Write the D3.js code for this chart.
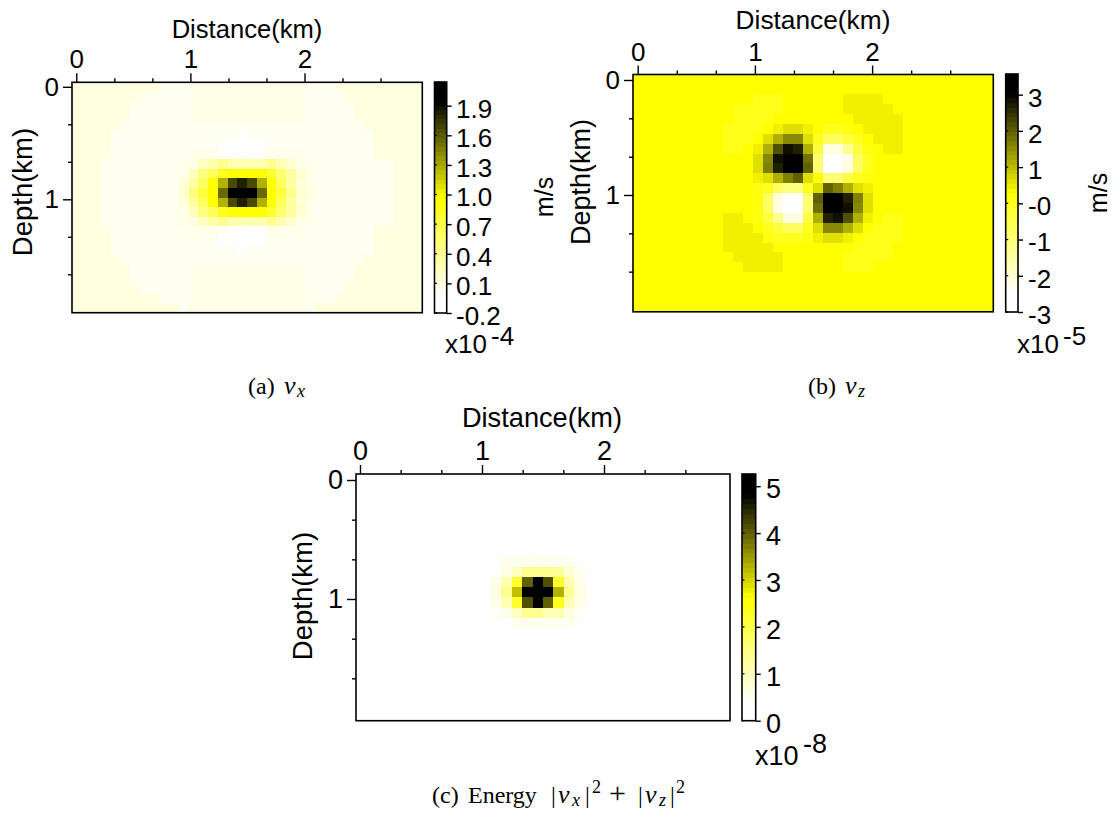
<!DOCTYPE html>
<html><head><meta charset="utf-8">
<script src="https://cdn.jsdelivr.net/npm/d3@7/dist/d3.min.js"></script>
<style>html,body{margin:0;padding:0;background:#fff}svg{display:block}</style>
</head><body><svg id="chart" width="1113" height="814"></svg>
<script>
// Values, rows top to bottom, 36 columns by 24 rows
const vxValues = [ // x 10^-4 m/s
[.11,.11,.11,.11,.11,.11,.11,.11,.11,.04,.04,.04,.08,.08,.08,.08,.08,.08,.08,.08,.08,.08,.08,.08,.04,.04,.04,.11,.11,.11,.11,.11,.11,.11,.11,.11],
[.11,.11,.11,.11,.11,.11,.11,.04,.04,.04,.04,.04,.08,.08,.08,.08,.08,.08,.08,.08,.08,.08,.08,.08,.04,.04,.04,.04,.11,.11,.11,.11,.11,.11,.11,.11],
[.11,.11,.11,.11,.11,.11,.04,.04,.04,.04,.04,.04,.08,.08,.08,.08,.08,.08,.08,.08,.08,.08,.08,.08,.04,.04,.04,.04,.04,.11,.11,.11,.11,.11,.11,.11],
[.11,.11,.11,.11,.11,.11,.04,.04,.04,.04,.04,.04,.08,.08,.08,.08,.08,.08,.08,.08,.08,.08,.08,.08,.04,.04,.04,.04,.04,.11,.11,.11,.11,.11,.11,.11],
[.11,.11,.11,.11,.11,.04,.04,.04,.04,.04,.04,.04,.04,.04,.04,.04,.04,.04,.04,.04,.04,.04,.04,.04,.04,.04,.04,.04,.04,.04,.11,.11,.11,.11,.11,.11],
[.11,.11,.11,.11,.04,.04,.04,.04,.04,.04,.04,.04,.04,.04,.04,.04,.04,-.05,.04,.04,.04,.04,.04,.04,.04,.04,.04,.04,.04,.04,.04,.11,.11,.11,.11,.11],
[.11,.11,.11,.11,.04,.04,.04,.04,.04,.04,.04,.04,.04,.04,.04,-.05,-.05,-.05,-.05,-.05,.04,.04,.04,.04,.04,.04,.04,.04,.04,.04,.04,.11,.11,.11,.11,.11],
[.11,.11,.11,.11,.04,.04,.04,.04,.04,.04,.04,.04,.07,.07,.07,0,0,-.05,0,0,.07,.07,.07,.07,.04,.04,.04,.04,.04,.04,.04,.11,.11,.11,.11,.11],
[.11,.11,.11,.04,.04,.04,.04,.04,.04,.04,.04,.07,.1,.23,.32,.42,.29,.29,.29,.29,.42,.29,.17,.08,.06,.04,.04,.04,.04,.04,.04,.04,.04,.11,.11,.11],
[.11,.11,.11,.04,.04,.04,.04,.04,.04,.04,.04,.07,.23,.48,.6,.85,.97,.97,.97,.97,.79,.54,.35,.17,.08,.04,.04,.04,.04,.04,.04,.04,.04,.11,.11,.11],
[.11,.11,.11,.04,.04,.04,.04,.04,.04,.04,.04,.14,.35,.6,.97,1.27,1.67,1.83,1.67,1.27,.97,.6,.35,.14,.08,.04,.04,.04,.04,.04,.04,.04,.04,.11,.11,.11],
[.11,.11,.11,.04,.04,.04,.04,.04,.04,.04,.04,.17,.48,.73,.97,1.55,2.1,2.1,2.1,1.55,.97,.73,.42,.17,.11,.04,.04,.04,.04,.04,.04,.04,.04,.11,.11,.11],
[.11,.11,.11,.04,.04,.04,.04,.04,.04,.04,.04,.14,.35,.6,.97,1.27,1.67,1.83,1.67,1.27,.97,.6,.35,.14,.08,.04,.04,.04,.04,.04,.04,.04,.04,.11,.11,.11],
[.11,.11,.11,.04,.04,.04,.04,.04,.04,.04,.04,.07,.23,.48,.6,.85,.97,.97,.97,.97,.79,.54,.35,.17,.08,.04,.04,.04,.04,.04,.04,.04,.04,.11,.11,.11],
[.11,.11,.11,.04,.04,.04,.04,.04,.04,.04,.04,.07,.1,.23,.32,.42,.29,.29,.29,.29,.42,.29,.17,.08,.06,.04,.04,.04,.04,.04,.04,.04,.04,.11,.11,.11],
[.11,.11,.11,.11,.04,.04,.04,.04,.04,.04,.04,.04,.07,.07,.07,0,0,-.05,0,0,.07,.07,.07,.07,.04,.04,.04,.04,.04,.04,.04,.11,.11,.11,.11,.11],
[.11,.11,.11,.11,.04,.04,.04,.04,.04,.04,.04,.04,.04,.04,.04,-.05,-.05,-.05,-.05,-.05,.04,.04,.04,.04,.04,.04,.04,.04,.04,.04,.04,.11,.11,.11,.11,.11],
[.11,.11,.11,.11,.04,.04,.04,.04,.04,.04,.04,.04,.04,.04,.04,.04,.04,-.05,.04,.04,.04,.04,.04,.04,.04,.04,.04,.04,.04,.04,.04,.11,.11,.11,.11,.11],
[.11,.11,.11,.11,.11,.04,.04,.04,.04,.04,.04,.04,.04,.04,.04,.04,.04,.04,.04,.04,.04,.04,.04,.04,.04,.04,.04,.04,.04,.04,.11,.11,.11,.11,.11,.11],
[.11,.11,.11,.11,.11,.11,.04,.04,.04,.04,.04,.04,.08,.08,.08,.08,.08,.08,.08,.08,.08,.08,.08,.08,.04,.04,.04,.04,.04,.11,.11,.11,.11,.11,.11,.11],
[.11,.11,.11,.11,.11,.11,.04,.04,.04,.04,.04,.04,.08,.08,.08,.08,.08,.08,.08,.08,.08,.08,.08,.08,.04,.04,.04,.04,.04,.11,.11,.11,.11,.11,.11,.11],
[.11,.11,.11,.11,.11,.11,.11,.04,.04,.04,.04,.04,.08,.08,.08,.08,.08,.08,.08,.08,.08,.08,.08,.08,.04,.04,.04,.04,.11,.11,.11,.11,.11,.11,.11,.11],
[.11,.11,.11,.11,.11,.11,.11,.11,.11,.04,.04,.04,.08,.08,.08,.08,.08,.08,.08,.08,.08,.08,.08,.08,.04,.04,.04,.11,.11,.11,.11,.11,.11,.11,.11,.11],
[.11,.11,.11,.11,.11,.11,.11,.11,.11,.11,.11,.04,.08,.08,.08,.08,.08,.08,.08,.08,.08,.08,.08,.08,.04,.11,.11,.11,.11,.11,.11,.11,.11,.11,.11,.11]
];
const vzValues = [ // x 10^-5 m/s
[.29,.29,.29,.29,.29,.29,.29,.29,.29,.29,.29,.29,.29,.29,.29,.29,.29,.29,.29,.29,.29,.29,.29,.29,.29,.29,.29,.29,.29,.29,.29,.29,.29,.29,.29,.29],
[.29,.29,.29,.29,.29,.29,.29,.29,.29,.29,.29,.29,.29,.29,.29,.29,.29,.29,.29,.29,.29,.29,.29,.29,.29,.29,.29,.29,.29,.29,.29,.29,.29,.29,.29,.29],
[.29,.29,.29,.29,.29,.29,.29,.29,.29,.29,.29,.29,.03,.03,.03,.29,.29,.29,.29,.29,.29,.45,.45,.45,.45,.29,.29,.29,.29,.29,.29,.29,.29,.29,.29,.29],
[.29,.29,.29,.29,.29,.29,.29,.29,.29,.29,.03,.03,.03,.03,.03,.29,.29,.29,.29,.29,.29,.45,.45,.45,.45,.45,.29,.29,.29,.29,.29,.29,.29,.29,.29,.29],
[.29,.29,.29,.29,.29,.29,.29,.29,.29,.29,.03,.03,.03,.03,.29,.29,.29,.29,.29,.29,.29,.29,.45,.45,.45,.45,.45,.29,.29,.29,.29,.29,.29,.29,.29,.29],
[.29,.29,.29,.29,.29,.29,.29,.29,.29,.03,.03,.03,.03,.29,.45,.62,.62,.45,.29,-.06,-.06,.11,.29,.45,.45,.45,.45,.29,.29,.29,.29,.29,.29,.29,.29,.29],
[.29,.29,.29,.29,.29,.29,.29,.29,.29,.03,.03,.03,.29,.62,1.14,1.57,1.57,.62,-.06,-.75,-.75,-.41,-.06,.29,.45,.45,.45,.29,.29,.29,.29,.29,.29,.29,.29,.29],
[.29,.29,.29,.29,.29,.29,.29,.29,.29,.03,.03,.29,.45,1.14,2.18,2.87,2.7,1.14,-.41,-2.14,-2.14,-1.27,-.41,.11,.29,.45,.45,.29,.29,.29,.29,.29,.29,.29,.29,.29],
[.29,.29,.29,.29,.29,.29,.29,.29,.29,.29,.29,.29,.62,1.57,2.87,3.3,3.3,1.83,-.93,-2.8,-2.8,-2.23,-.75,-.06,.29,.29,.29,.29,.29,.29,.29,.29,.29,.29,.29,.29],
[.29,.29,.29,.29,.29,.29,.29,.29,.29,.29,.29,.29,.62,1.66,2.7,3.3,3.3,2,-.93,-2.8,-2.8,-2.14,-.75,-.06,.29,.29,.29,.29,.29,.29,.29,.29,.29,.29,.29,.29],
[.29,.29,.29,.29,.29,.29,.29,.29,.29,.29,.29,.29,.45,.62,1.14,1.66,2,.62,.11,-.93,-.93,-.41,-.06,.11,.29,.29,.29,.29,.29,.29,.29,.29,.29,.29,.29,.29],
[.29,.29,.29,.29,.29,.29,.29,.29,.29,.29,.29,.29,.11,-.06,-.75,-1.1,-1.1,-.06,.62,2,1.66,1.14,.62,.45,.29,.29,.29,.29,.29,.29,.29,.29,.29,.29,.29,.29],
[.29,.29,.29,.29,.29,.29,.29,.29,.29,.29,.29,.29,.11,-.75,-2.14,-2.8,-2.8,-.93,2,3.3,3.3,2.7,1.66,.62,.29,.29,.29,.29,.29,.29,.29,.29,.29,.29,.29,.29],
[.29,.29,.29,.29,.29,.29,.29,.29,.29,.29,.29,.29,.11,-.75,-2.23,-2.8,-2.8,-.93,1.83,3.3,3.3,2.87,1.57,.62,.29,.29,.29,.29,.29,.29,.29,.29,.29,.29,.29,.29],
[.29,.29,.29,.29,.29,.29,.29,.29,.29,.45,.45,.29,.11,-.41,-1.27,-2.14,-2.14,-.41,1.14,2.7,2.87,2.18,1.14,.45,.29,.03,.03,.29,.29,.29,.29,.29,.29,.29,.29,.29],
[.29,.29,.29,.29,.29,.29,.29,.29,.29,.45,.45,.45,.29,-.06,-.41,-.75,-.75,-.06,.62,1.57,1.57,1.14,.62,.29,.03,.03,.03,.29,.29,.29,.29,.29,.29,.29,.29,.29],
[.29,.29,.29,.29,.29,.29,.29,.29,.29,.45,.45,.45,.45,.11,-.06,-.06,-.06,.11,.45,.62,.62,.45,.29,.03,.03,.03,.03,.29,.29,.29,.29,.29,.29,.29,.29,.29],
[.29,.29,.29,.29,.29,.29,.29,.29,.29,.45,.45,.45,.45,.45,.29,.29,.29,.29,.29,.29,.29,.29,.03,.03,.03,.03,.29,.29,.29,.29,.29,.29,.29,.29,.29,.29],
[.29,.29,.29,.29,.29,.29,.29,.29,.29,.29,.45,.45,.45,.45,.45,.29,.29,.29,.29,.29,.29,.03,.03,.03,.03,.03,.29,.29,.29,.29,.29,.29,.29,.29,.29,.29],
[.29,.29,.29,.29,.29,.29,.29,.29,.29,.29,.29,.45,.45,.45,.45,.29,.29,.29,.29,.29,.29,.03,.03,.03,.29,.29,.29,.29,.29,.29,.29,.29,.29,.29,.29,.29],
[.29,.29,.29,.29,.29,.29,.29,.29,.29,.29,.29,.29,.29,.29,.29,.29,.29,.29,.29,.29,.29,.29,.29,.29,.29,.29,.29,.29,.29,.29,.29,.29,.29,.29,.29,.29],
[.29,.29,.29,.29,.29,.29,.29,.29,.29,.29,.29,.29,.29,.29,.29,.29,.29,.29,.29,.29,.29,.29,.29,.29,.29,.29,.29,.29,.29,.29,.29,.29,.29,.29,.29,.29],
[.29,.29,.29,.29,.29,.29,.29,.29,.29,.29,.29,.29,.29,.29,.29,.29,.29,.29,.29,.29,.29,.29,.29,.29,.29,.29,.29,.29,.29,.29,.29,.29,.29,.29,.29,.29],
[.29,.29,.29,.29,.29,.29,.29,.29,.29,.29,.29,.29,.29,.29,.29,.29,.29,.29,.29,.29,.29,.29,.29,.29,.29,.29,.29,.29,.29,.29,.29,.29,.29,.29,.29,.29]
];
const energyValues = [ // x 10^-8
[0,0,0,0,0,0,0,0,0,0,0,0,0,0,0,0,0,0,0,0,0,0,0,0,0,0,0,0,0,0,0,0,0,0,0,0],
[0,0,0,0,0,0,0,0,0,0,0,0,0,0,0,0,0,0,0,0,0,0,0,0,0,0,0,0,0,0,0,0,0,0,0,0],
[0,0,0,0,0,0,0,0,0,0,0,0,0,0,0,0,0,0,0,0,0,0,0,0,0,0,0,0,0,0,0,0,0,0,0,0],
[0,0,0,0,0,0,0,0,0,0,0,0,0,0,0,0,0,0,0,0,0,0,0,0,0,0,0,0,0,0,0,0,0,0,0,0],
[0,0,0,0,0,0,0,0,0,0,0,0,0,0,0,0,0,0,0,0,0,0,0,0,0,0,0,0,0,0,0,0,0,0,0,0],
[0,0,0,0,0,0,0,0,0,0,0,0,0,0,0,0,0,0,0,0,0,0,0,0,0,0,0,0,0,0,0,0,0,0,0,0],
[0,0,0,0,0,0,0,0,0,0,0,0,0,0,0,0,0,0,0,0,0,0,0,0,0,0,0,0,0,0,0,0,0,0,0,0],
[0,0,0,0,0,0,0,0,0,0,0,0,0,0,0,0,0,0,0,0,0,0,0,0,0,0,0,0,0,0,0,0,0,0,0,0],
[0,0,0,0,0,0,0,0,0,0,0,0,0,0,.55,.55,.55,.62,.55,.55,.55,0,0,0,0,0,0,0,0,0,0,0,0,0,0,0],
[0,0,0,0,0,0,0,0,0,0,0,0,0,.48,.69,.97,1.38,1.38,1.38,1.3,.8,.55,0,0,0,0,0,0,0,0,0,0,0,0,0,0],
[0,0,0,0,0,0,0,0,0,0,0,0,0,.62,1.1,2.21,4.01,4.9,4.15,2.21,1.1,.62,0,0,0,0,0,0,0,0,0,0,0,0,0,0],
[0,0,0,0,0,0,0,0,0,0,0,0,0,.69,1.38,3.18,4.9,4.9,4.9,3.31,1.38,.69,0,0,0,0,0,0,0,0,0,0,0,0,0,0],
[0,0,0,0,0,0,0,0,0,0,0,0,0,.62,1.1,2.21,4.15,4.9,4.01,2.35,1.1,.62,0,0,0,0,0,0,0,0,0,0,0,0,0,0],
[0,0,0,0,0,0,0,0,0,0,0,0,0,.48,.62,.97,1.38,1.38,1.1,1.1,.69,.5,0,0,0,0,0,0,0,0,0,0,0,0,0,0],
[0,0,0,0,0,0,0,0,0,0,0,0,0,0,0,.55,.55,.55,.55,.55,.55,0,0,0,0,0,0,0,0,0,0,0,0,0,0,0],
[0,0,0,0,0,0,0,0,0,0,0,0,0,0,0,0,0,0,0,0,0,0,0,0,0,0,0,0,0,0,0,0,0,0,0,0],
[0,0,0,0,0,0,0,0,0,0,0,0,0,0,0,0,0,0,0,0,0,0,0,0,0,0,0,0,0,0,0,0,0,0,0,0],
[0,0,0,0,0,0,0,0,0,0,0,0,0,0,0,0,0,0,0,0,0,0,0,0,0,0,0,0,0,0,0,0,0,0,0,0],
[0,0,0,0,0,0,0,0,0,0,0,0,0,0,0,0,0,0,0,0,0,0,0,0,0,0,0,0,0,0,0,0,0,0,0,0],
[0,0,0,0,0,0,0,0,0,0,0,0,0,0,0,0,0,0,0,0,0,0,0,0,0,0,0,0,0,0,0,0,0,0,0,0],
[0,0,0,0,0,0,0,0,0,0,0,0,0,0,0,0,0,0,0,0,0,0,0,0,0,0,0,0,0,0,0,0,0,0,0,0],
[0,0,0,0,0,0,0,0,0,0,0,0,0,0,0,0,0,0,0,0,0,0,0,0,0,0,0,0,0,0,0,0,0,0,0,0],
[0,0,0,0,0,0,0,0,0,0,0,0,0,0,0,0,0,0,0,0,0,0,0,0,0,0,0,0,0,0,0,0,0,0,0,0],
[0,0,0,0,0,0,0,0,0,0,0,0,0,0,0,0,0,0,0,0,0,0,0,0,0,0,0,0,0,0,0,0,0,0,0,0]
];
const vxRange = [-0.2, 2.14];
const vzRange = [-3, 3.57];
const energyRange = [0, 5.26];
const vxTicks = [-0.2, 0.1, 0.4, 0.7, 1.0, 1.3, 1.6, 1.9];
const vxTickLabels = ["-0.2", "0.1", "0.4", "0.7", "1.0", "1.3", "1.6", "1.9"];
const vzTicks = [-3, -2, -1, 0, 1, 2, 3];
const vzTickLabels = ["-3", "-2", "-1", "-0", "1", "2", "3"];
const energyTicks = [0, 1, 2, 3, 4, 5];
const energyTickLabels = ["0", "1", "2", "3", "4", "5"];
const distanceMajor = [0, 1, 2];
const distanceMinor = [1/3, 2/3, 4/3, 5/3, 7/3, 8/3];
const depthMajor = [0, 1];
const depthMinor = [1/3, 2/3, 4/3, 5/3];
const BANDS = 50;

const panels = [
  {values: vxValues, range: vxRange, ticks: vxTicks, labels: vxTickLabels,
   box: [72, 422.3, 82.3, 312.7], x0: 76.3, xk: 114.1, y0: 86.8, yk: 112.5,
   bar: [434.5, 446.7, 82, 313], fs: 26, lfs: 25.6, dfs: 27.5,
   dist: [247, 38], depth: [32, 192], exp: "-4", expPos: [445, 353, 491, 345],
   unit: [553, 197], tickLabelX: 456},
  {values: vzValues, range: vzRange, ticks: vzTicks, labels: vzTickLabels,
   box: [633, 993.3, 74.5, 311.8], x0: 637.7, xk: 117.2, y0: 80, yk: 115,
   bar: [1005.7, 1018, 74, 312], fs: 26, lfs: 26.3, dfs: 27,
   dist: [813, 29], depth: [590, 182], exp: "-5", expPos: [1017, 353, 1063, 345],
   unit: [1107, 193], tickLabelX: 1028},
  {values: energyValues, range: energyRange, ticks: energyTicks, labels: energyTickLabels,
   box: [356, 730, 474, 720.7], x0: 360, xk: 122, y0: 480, yk: 119,
   bar: [742, 755.7, 474, 720.7], fs: 27, lfs: 27.2, dfs: 27.5,
   dist: [542, 427], depth: [312, 596], exp: "-8", expPos: [755, 765, 803, 753],
   tickLabelX: 766}
];

const svg = d3.select("#chart");
const SANS = "'Liberation Sans', Arial, sans-serif";
const SERIF = "'Liberation Serif', 'Times New Roman', serif";
const ramp = d3.scaleLinear().domain([.08, .5, .92]).range(["#ffffff", "#ffff00", "#000000"]).clamp(true);

panels.forEach(p => {
  const g = svg.append("g");
  const [l, r, t, b] = p.box;
  const norm = d3.scaleLinear().domain(p.range).range([0, 1]);
  const col = d3.scaleBand().domain(d3.range(p.values[0].length)).range([l, r]);
  const row = d3.scaleBand().domain(d3.range(p.values.length)).range([t, b]);
  const cells = p.values.flatMap((vals, i) => vals.map((v, j) => ({i, j, v})));
  g.append("g").attr("shape-rendering", "crispEdges").selectAll("rect").data(cells).join("rect")
    .attr("x", d => col(d.j)).attr("y", d => row(d.i))
    .attr("width", col.bandwidth() + .5).attr("height", row.bandwidth() + .5)
    .attr("fill", d => ramp(norm(d.v)));
  g.append("rect").attr("x", l).attr("y", t).attr("width", r - l).attr("height", b - t)
    .attr("fill", "none").attr("stroke", "#000").attr("stroke-width", 1.6);

  // distance / depth axes
  const x = d3.scaleLinear().domain([0, 1]).range([p.x0, p.x0 + p.xk]);
  const y = d3.scaleLinear().domain([0, 1]).range([p.y0, p.y0 + p.yk]);
  const style = (sel) => {
    sel.select(".domain").remove();
    sel.selectAll("line").attr("stroke", "#000").attr("stroke-width", 1.4);
    sel.selectAll("text").attr("fill", "#000").attr("font-family", SANS).attr("font-size", p.fs);
  };
  g.append("g").attr("transform", `translate(0,${t})`)
    .call(d3.axisTop(x).tickValues(distanceMajor).tickFormat(d3.format("d")).tickSize(9).tickPadding(5)).call(style);
  g.append("g").attr("transform", `translate(0,${t})`)
    .call(d3.axisTop(x).tickValues(distanceMinor).tickFormat("").tickSize(4)).call(style);
  g.append("g").attr("transform", `translate(${l},0)`)
    .call(d3.axisLeft(y).tickValues(depthMajor).tickFormat(d3.format("d")).tickSize(9).tickPadding(4)).call(style);
  g.append("g").attr("transform", `translate(${l},0)`)
    .call(d3.axisLeft(y).tickValues(depthMinor).tickFormat("").tickSize(4)).call(style);

  g.append("text").attr("x", p.dist[0]).attr("y", p.dist[1]).attr("text-anchor", "middle")
    .attr("font-family", SANS).attr("font-size", p.lfs).text("Distance(km)");
  g.append("text").attr("transform", `translate(${p.depth[0]},${p.depth[1]}) rotate(-90)`).attr("text-anchor", "middle")
    .attr("font-family", SANS).attr("font-size", p.dfs).text("Depth(km)");

  // colour bar
  const [bl, br, bt, bb] = p.bar;
  const yBar = d3.scaleLinear().domain(p.range).range([bb, bt]);
  const span = p.range[1] - p.range[0];
  const bands = d3.range(BANDS).map(i => ({
    lo: p.range[0] + span * i / BANDS, hi: p.range[0] + span * (i + 1) / BANDS, t: (i + .5) / BANDS}));
  g.append("g").attr("shape-rendering", "crispEdges").selectAll("rect").data(bands).join("rect")
    .attr("x", bl).attr("width", br - bl)
    .attr("y", d => yBar(d.hi)).attr("height", d => yBar(d.lo) - yBar(d.hi) + .5)
    .attr("fill", d => ramp(d.t));
  g.append("rect").attr("x", bl).attr("y", bt).attr("width", br - bl).attr("height", bb - bt)
    .attr("fill", "none").attr("stroke", "#000").attr("stroke-width", 1.6);
  const barAxis = g.append("g").attr("transform", `translate(${br},0)`)
    .call(d3.axisRight(yBar).tickValues(p.ticks).tickFormat((d, i) => p.labels[i]).tickSize(5).tickPadding(0)).call(style);
  barAxis.selectAll("text").attr("x", p.tickLabelX - br).attr("dy", null)
    .attr("y", 0.36 * p.fs + 2);
  g.append("g").selectAll("line").data(p.ticks).join("line")
    .attr("x1", bl).attr("x2", bl + 2.5).attr("y1", d => yBar(d)).attr("y2", d => yBar(d))
    .attr("stroke", "#000").attr("stroke-width", 1.2);

  const [ex, ey, sx, sy] = p.expPos;
  g.append("text").attr("x", ex).attr("y", ey).attr("font-family", SANS).attr("font-size", p.fs).text("x10");
  g.append("text").attr("x", sx).attr("y", sy).attr("font-family", SANS).attr("font-size", p.fs).text(p.exp);
  if (p.unit) {
    g.append("text").attr("transform", `translate(${p.unit[0]},${p.unit[1]}) rotate(-90)`).attr("text-anchor", "middle")
      .attr("font-family", SANS).attr("font-size", 25).text("m/s");
  }
});

// captions: each run of text placed from its left edge
function caption(yPos, parts) {
  const t = svg.append("text").attr("font-family", SERIF).attr("fill", "#000");
  parts.forEach(q => {
    t.append("tspan").attr("x", q.x).attr("y", yPos + (q.dy || 0))
      .attr("font-style", q.it ? "italic" : "normal")
      .attr("font-size", q.fs || 24).text(q.s);
  });
}
caption(394, [{s: "(a)", x: 248}, {s: "v", x: 284, it: 1, fs: 26}, {s: "x", x: 297, it: 1, fs: 18, dy: 3}]);
caption(394, [{s: "(b)", x: 808}, {s: "v", x: 845, it: 1, fs: 26}, {s: "z", x: 858, it: 1, fs: 18, dy: 3}]);
caption(803, [{s: "(c)", x: 432}, {s: "Energy", x: 468},
  {s: "|", x: 551}, {s: "v", x: 558, it: 1, fs: 26}, {s: "x", x: 572, it: 1, fs: 18, dy: 3},
  {s: "|", x: 585}, {s: "2", x: 592, fs: 18, dy: -10},
  {s: "+", x: 609, fs: 30}, {s: "|", x: 638}, {s: "v", x: 645, it: 1, fs: 26}, {s: "z", x: 659, it: 1, fs: 18, dy: 3},
  {s: "|", x: 670}, {s: "2", x: 676, fs: 18, dy: -10}]);
</script></body></html>
